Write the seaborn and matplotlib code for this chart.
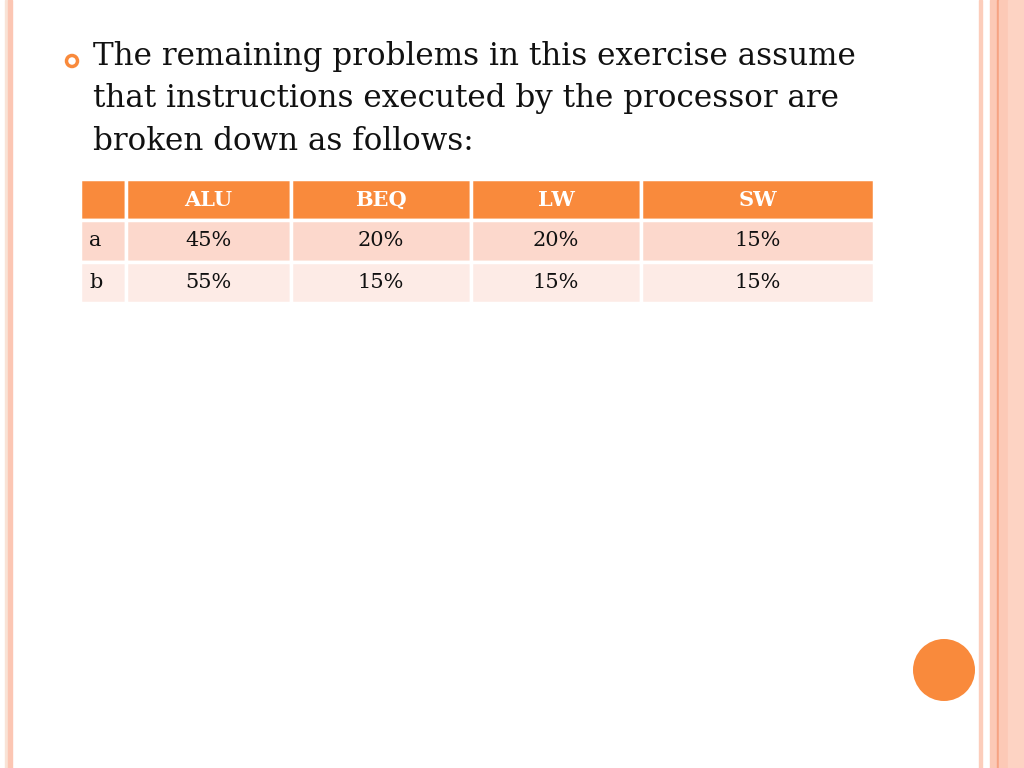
import matplotlib
matplotlib.use("Agg")
import matplotlib.pyplot as plt
from matplotlib.patches import Circle
import seaborn as sns

# data
columns = ["ALU", "BEQ", "LW", "SW"]
rows = ["a", "b"]
mix_a = ["45%", "20%", "20%", "15%"]
mix_b = ["55%", "15%", "15%", "15%"]
lines = [
    "The remaining problems in this exercise assume",
    "that instructions executed by the processor are",
    "broken down as follows:",
]

orange = "#F98A3C"
peach_a = "#FCD8CC"
peach_b = "#FDEBE6"

sns.set_theme(style="white")
plt.rcParams["font.family"] = ["DejaVu Serif"]

fig = plt.figure(figsize=(10.24, 7.68), dpi=100)
ax = fig.add_axes([0, 0, 1, 1])
ax.set_xlim(0, 1024)
ax.set_ylim(768, 0)
ax.axis("off")

# slide borders
ax.axvspan(5, 8, color="#F9E3D6")
ax.axvspan(8, 12, color="#FCC6B3")
ax.axvspan(979, 982, color="#FCCDBB")
ax.axvspan(990, 997, color="#FCC9B6")
ax.axvspan(997, 999, color="#F6A383")
ax.axvspan(999, 1008, color="#FCC9B6")
ax.axvspan(1008, 1024, color="#FDD3C3")

# bullet and text
ax.add_patch(Circle((72, 61), 5.5, fill=False, ec=orange, lw=2.5))
for i, t in enumerate(lines):
    ax.text(93, 57 + i * 42, t, fontsize=22.3, va="center", ha="left", color="#111111")

# decorative circle
ax.add_patch(Circle((944, 670), 31, color=orange, lw=0))

# table
cell_text = [[rows[0]] + mix_a, [rows[1]] + mix_b]
widths = [46, 165, 180, 170, 233]
tot = sum(widths)
tbl = ax.table(
    cellText=cell_text,
    colLabels=[""] + columns,
    colWidths=[w / tot for w in widths],
    cellLoc="center",
    bbox=[80 / 1024, 1 - 303 / 768, (874 - 80) / 1024, (303 - 179) / 768],
)
tbl.auto_set_font_size(False)
for (r, c), cell in tbl.get_celld().items():
    cell.set_edgecolor("white")
    cell.set_linewidth(2.5)
    txt = cell.get_text()
    if r == 0:
        cell.set_facecolor(orange)
        txt.set_color("white")
        txt.set_fontweight("bold")
        txt.set_fontsize(15)
    else:
        cell.set_facecolor(peach_a if r == 1 else peach_b)
        txt.set_color("#111111")
        txt.set_fontsize(15)
        if c == 0:
            txt.set_ha("left")
            cell.PAD = 0.2

fig.savefig("out.png", dpi=100)
